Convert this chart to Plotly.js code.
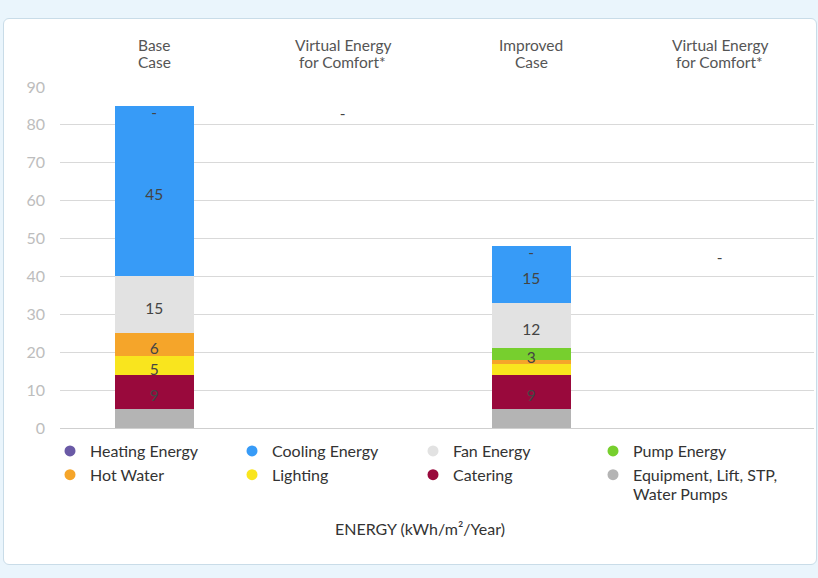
<!DOCTYPE html>
<html><head><meta charset="utf-8">
<script src="https://cdn.plot.ly/plotly-3.0.1.min.js"></script>
<style>
html,body{margin:0;padding:0;background:#eaf5fc;width:818px;height:578px;overflow:hidden;}
#card{position:absolute;left:3px;top:18px;width:812px;height:545px;background:#fff;border:1px solid #c9dce8;border-radius:6px;}
#chart{position:absolute;left:0;top:0;width:818px;height:578px;}
</style></head>
<body>
<div id="card"></div>
<div id="chart"></div>
<script>
// ---- data ----
const categoryIds = ['base', 'virtual1', 'improved', 'virtual2'];
const categoryLine1 = ['Base', 'Virtual Energy', 'Improved', 'Virtual Energy'];
const categoryLine2 = ['Case', 'for Comfort*', 'Case', 'for Comfort*'];

// stacked bottom -> top
const equipment = [5, 0, 5, 0];
const catering  = [9, 0, 9, 0];
const lighting  = [5, 0, 3, 0];
const hotWater  = [6, 0, 1, 0];
const pump      = [0, 0, 3, 0];
const fan       = [15, 0, 12, 0];
const cooling   = [45, 0, 15, 0];
const heating   = [0, 0, 0, 0];

// printed value labels per series
const equipmentLabels = ['', '', '', ''];
const cateringLabels  = ['9', '', '9', ''];
const lightingLabels  = ['5', '', '', ''];
const hotWaterLabels  = ['6', '', '', ''];
const pumpLabels      = ['', '', '3', ''];
const fanLabels       = ['15', '', '12', ''];
const coolingLabels   = ['45', '', '15', ''];
const heatingLabels   = ['-', '', '-', ''];

// virtual comfort energy: shown as "-" at these levels
const virtualComfortLevel = [null, 84, null, 46];
const virtualComfortLabels = ['', '-', '', '-'];

const seriesNames = ['Equipment, Lift, STP,', 'Catering', 'Lighting', 'Hot Water', 'Pump Energy', 'Fan Energy', 'Cooling Energy', 'Heating Energy'];
const equipmentNameLine2 = 'Water Pumps';
// legend columns (left to right), each top to bottom
const legendColumns = [
  ['Heating Energy', 'Hot Water'],
  ['Cooling Energy', 'Lighting'],
  ['Fan Energy', 'Catering'],
  ['Pump Energy', 'Equipment, Lift, STP,']
];

// ---- styles ----
const colors = {
  'Heating Energy': '#6a5aa6',
  'Cooling Energy': '#379bf7',
  'Fan Energy': '#e2e2e2',
  'Pump Energy': '#77cf2e',
  'Hot Water': '#f5a52a',
  'Lighting': '#f9e51e',
  'Catering': '#99093c',
  'Equipment, Lift, STP,': '#b4b4b4'
};
const FONT = 'Lato, "Open Sans", sans-serif';
const LABEL_SHIFT = -1.4;   // value units, visual nudge of in-bar labels
const ZERO_SHIFT = -0.8;
const legendColX = [50, 232, 413, 593]; // px
const LEGEND_TOP = 434; // px

const stackValues = [equipment, catering, lighting, hotWater, pump, fan, cooling, heating];
const stackLabels = [equipmentLabels, cateringLabels, lightingLabels, hotWaterLabels, pumpLabels, fanLabels, coolingLabels, heatingLabels];

const traces = [];
const base = categoryIds.map(() => 0);
const labX = [], labY = [], labT = [];
stackValues.forEach((vals, i) => {
  traces.push({
    type: 'bar', x: categoryIds, y: vals, name: seriesNames[i],
    marker: {color: colors[seriesNames[i]], line: {width: 0}},
    showlegend: false, hoverinfo: 'none'
  });
  vals.forEach((v, j) => {
    if (stackLabels[i][j]) {
      labX.push(categoryIds[j]);
      labY.push(base[j] + v / 2 + LABEL_SHIFT + (v === 0 ? ZERO_SHIFT : 0));
      labT.push(stackLabels[i][j]);
    }
    base[j] += v;
  });
});
virtualComfortLevel.forEach((v, j) => {
  if (v !== null) { labX.push(categoryIds[j]); labY.push(v + LABEL_SHIFT); labT.push(virtualComfortLabels[j]); }
});
traces.push({
  type: 'scatter', mode: 'text', x: labX, y: labY, text: labT,
  textfont: {family: FONT, size: 15.5, color: '#444'},
  showlegend: false, hoverinfo: 'none', cliponaxis: false
});

const layout = {
  width: 818, height: 578,
  margin: {l: 60, r: 4, t: 87, b: 150, autoexpand: false},
  paper_bgcolor: 'rgba(0,0,0,0)', plot_bgcolor: 'rgba(0,0,0,0)',
  barmode: 'stack', bargap: 0.58,
  font: {family: FONT, color: '#333'},
  xaxis: {
    type: 'category', categoryorder: 'array', categoryarray: categoryIds, range: [-0.5, 3.5],
    showticklabels: false, showgrid: false, zeroline: false, showline: false, ticks: '',
    fixedrange: true
  },
  yaxis: {
    range: [0, 90], dtick: 10, tick0: 0,
    tickfont: {family: FONT, size: 16, color: '#bdbdbd'},
    gridcolor: '#d9d9d9', gridwidth: 1, zeroline: true, zerolinecolor: '#cfcfcf',
    showline: false, ticks: '', ticklabelstandoff: 14, fixedrange: true
  }
};

legendColumns.forEach((col, k) => {
  const key = k === 0 ? 'legend' : 'legend' + (k + 1);
  layout[key] = {
    orientation: 'v', xref: 'container', yref: 'container',
    x: legendColX[k] / 818, y: 1 - LEGEND_TOP / 578, xanchor: 'left', yanchor: 'top',
    traceorder: 'normal', valign: 'middle', bgcolor: 'rgba(0,0,0,0)',
    font: {family: FONT, size: 16, color: '#333'},
    itemclick: false, itemdoubleclick: false, tracegroupgap: 0
  };
  col.forEach(n => {
    traces.push({
      type: 'scatter', mode: 'markers', x: [null], y: [null], name: n, legend: key,
      marker: {color: colors[n], size: 11, symbol: 'circle'}, hoverinfo: 'none'
    });
  });
});

const annotations = [];
categoryIds.forEach((c, j) => {
  annotations.push({text: categoryLine1[j], x: c, xref: 'x', yref: 'paper', y: 1, yshift: 42,
    showarrow: false, xanchor: 'center', yanchor: 'middle', font: {family: FONT, size: 15.5, color: '#555'}});
  annotations.push({text: categoryLine2[j], x: c, xref: 'x', yref: 'paper', y: 1, yshift: 25,
    showarrow: false, xanchor: 'center', yanchor: 'middle', font: {family: FONT, size: 15.5, color: '#555'}});
});
annotations.push({
  text: equipmentNameLine2, xref: 'paper', yref: 'paper',
  x: (legendColX[3] + 38 - 60) / 754, y: 0, yshift: -(493 - 428), showarrow: false,
  xanchor: 'left', yanchor: 'middle', font: {family: FONT, size: 16, color: '#333'}
});
annotations.push({
  text: 'ENERGY (kWh/m²/Year)', xref: 'paper', yref: 'paper',
  x: (420 - 60) / 754, y: 0, yshift: -100, showarrow: false,
  xanchor: 'center', yanchor: 'middle',
  font: {family: FONT, size: 16, color: '#333'}
});
layout.annotations = annotations;

Plotly.newPlot('chart', traces, layout, {displayModeBar: false, staticPlot: true});
</script>
</body></html>
